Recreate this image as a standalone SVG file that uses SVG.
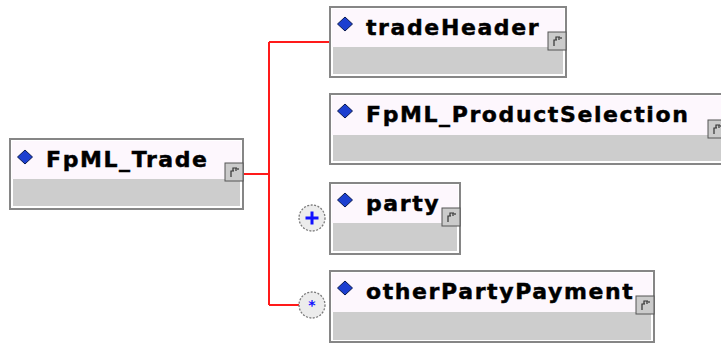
<svg xmlns="http://www.w3.org/2000/svg" width="721" height="343" viewBox="0 0 721 343">
<defs>
<style>
.box{fill:#ffffff;stroke:#868686;stroke-width:2}
.hdr{fill:#fdf7fd}
.body{fill:#cdcdcd}
.lbl{font-family:"DejaVu Sans",Verdana,sans-serif;font-weight:bold;font-size:22px;letter-spacing:1.6px;fill:#000;stroke:#000;stroke-width:0.45}
.dia{fill:#1c3fd0;stroke:#0a1a50;stroke-width:1}
.ico{fill:#cbcbcb;stroke:#555;stroke-width:1}
.glyph{fill:none;stroke:#333;stroke-width:1.2}
.conn{fill:none;stroke:#ff1a1a;stroke-width:2}
.occ{fill:#ececec;stroke:#7a7a7a;stroke-width:1.3;stroke-dasharray:2 1.5}
</style>
<g id="diamond"><polygon class="dia" points="0,-7 7.5,0 0,7 -7.5,0"/></g>
<g id="icon"><rect class="ico" x="0" y="0" width="18" height="18"/><path class="glyph" d="M6,14 V8 H9 M8,8 V5 H12 M11,5 V8 M13,5 V7"/></g>
</defs>
<rect width="721" height="343" fill="#ffffff"/>
<g id="connectors">
<path class="conn" d="M244,174 H269 M269,42 V305 M269,42 H329 M269,305 H299"/>
</g>
<g id="FpML_Trade">
<rect class="box" x="10" y="139" width="233" height="70"/>
<rect class="hdr" x="12" y="141" width="229" height="38"/>
<rect class="body" x="13" y="179" width="227" height="27"/>
<use href="#diamond" x="25" y="157"/>
<text class="lbl" x="46" y="167">FpML_Trade</text>
<use href="#icon" x="225" y="163"/>
</g>
<g id="tradeHeader">
<rect class="box" x="330" y="7" width="236" height="70"/>
<rect class="hdr" x="332" y="9" width="232" height="38"/>
<rect class="body" x="333" y="47" width="230" height="27"/>
<use href="#diamond" x="345" y="24"/>
<text class="lbl" x="366" y="35">tradeHeader</text>
<use href="#icon" x="548" y="32"/>
</g>
<g id="FpML_ProductSelection">
<rect class="box" x="330" y="94" width="398" height="70"/>
<rect class="hdr" x="332" y="96" width="394" height="39"/>
<rect class="body" x="333" y="135" width="392" height="26"/>
<use href="#diamond" x="345" y="111"/>
<text class="lbl" x="366" y="122">FpML_ProductSelection</text>
<use href="#icon" x="708" y="120"/>
</g>
<g id="party">
<rect class="box" x="330" y="183" width="130" height="71"/>
<rect class="hdr" x="332" y="185" width="126" height="38"/>
<rect class="body" x="333" y="223" width="124" height="28"/>
<use href="#diamond" x="345" y="200"/>
<text class="lbl" x="366" y="211">party</text>
<use href="#icon" x="442" y="208"/>
<circle class="occ" cx="312" cy="218" r="13"/>
<path d="M305.5,218 H318.5 M312,211.5 V224.5" stroke="#1010ff" stroke-width="3" fill="none"/>
</g>
<g id="otherPartyPayment">
<rect class="box" x="330" y="271" width="324" height="71"/>
<rect class="hdr" x="332" y="273" width="320" height="39"/>
<rect class="body" x="333" y="312" width="318" height="28"/>
<use href="#diamond" x="345" y="288"/>
<text class="lbl" x="366" y="299">otherPartyPayment</text>
<use href="#icon" x="636" y="296"/>
<circle class="occ" cx="312" cy="305" r="13"/>
<text x="312" y="310" text-anchor="middle" font-family="DejaVu Sans,sans-serif" font-size="14" font-weight="bold" fill="#1010ff">*</text>
</g>
</svg>
